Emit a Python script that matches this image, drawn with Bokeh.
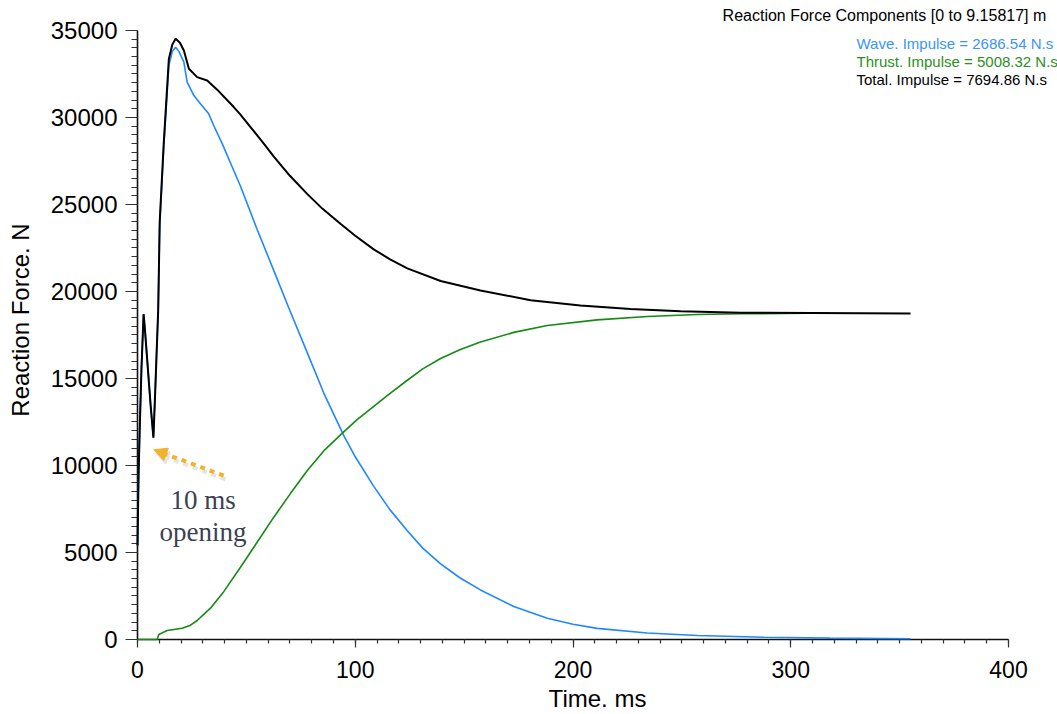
from bokeh.plotting import figure
from bokeh.models import Range1d, FixedTicker, Label, Arrow, NormalHead
from bokeh.embed import file_html
from bokeh.resources import INLINE

# ---- data ----
total_t = [0, 0.5, 1, 1.8, 2.8, 3.3, 4.5, 6, 7.3, 8, 8.7, 9.5, 10.2, 12, 14.4, 16, 17.5,
           19.5, 21.3, 23.6, 27.4, 32, 36.6, 44.2, 47.1, 51.9, 58, 62.6, 70, 77.9, 85,
           93.2, 100, 108.5, 116, 123.9, 139.2, 157.5, 180.5, 203.4, 226.4, 249.4, 277,
           310, 355]
total_f = [5400, 9500, 12000, 15500, 18700, 18000, 16000, 13500, 11600, 13800, 16200,
           18900, 24000, 28400, 33370, 34200, 34520, 34300, 33850, 32800, 32320, 32130,
           31600, 30600, 30190, 29450, 28500, 27750, 26650, 25610, 24750, 23890, 23200,
           22420, 21850, 21330, 20600, 20060, 19500, 19200, 19000, 18870, 18780, 18760,
           18740]

wave_t = [0, 0.5, 1, 1.8, 2.8, 3.3, 4.5, 6, 7.3, 8, 8.7, 9.5, 10.2, 12, 14.4, 16, 17.5,
          19, 21.3, 22.8, 25.9, 28.9, 32.7, 35, 38.9, 43, 47.3, 55, 62.6, 69.5, 77.9,
          85.6, 94.8, 100, 108.5, 116, 123.9, 131, 139.2, 148, 157.5, 172.8, 188.2, 200,
          211.1, 234.1, 257, 287.6, 318, 355]
wave_f = [5400, 9500, 12000, 15500, 18700, 18000, 16000, 13500, 11600, 13800, 16200,
          18900, 23800, 28200, 33000, 33800, 34040, 33800, 33180, 32030, 31260, 30790,
          30210, 29540, 28500, 27300, 26050, 23550, 21200, 19050, 16500, 14150, 11700,
          10500, 8800, 7450, 6250, 5250, 4350, 3550, 2850, 1900, 1220, 880, 640, 370,
          230, 130, 80, 40]

thrust_t = [0, 9, 9.8, 13.6, 20.5, 24, 27.4, 33.5, 39.6, 47.3, 55, 62.6, 70.3, 77.9, 86,
            94.8, 101, 108.5, 116, 123.9, 131, 139.2, 148, 157.5, 172.8, 188.2, 211.1,
            234.1, 257, 277, 318]
thrust_f = [0, 0, 290, 520, 650, 800, 1090, 1800, 2750, 4150, 5600, 7030, 8400, 9700,
            10900, 11950, 12650, 13400, 14150, 14900, 15550, 16150, 16650, 17100, 17650,
            18050, 18370, 18560, 18680, 18720, 18760]

x_major = [0, 100, 200, 300, 400]
y_major = [0, 5000, 10000, 15000, 20000, 25000, 30000, 35000]

title_text = "Reaction Force Components [0 to 9.15817] m"
legend_texts = ["Wave. Impulse = 2686.54 N.s",
                "Thrust. Impulse = 5008.32 N.s",
                "Total. Impulse = 7694.86 N.s"]
legend_colors = ["#3b95f5", "#2a8f22", "#000000"]

# ---- figure ----
# frame runs to the right/top canvas edge so the header texts fit inside it;
# axes are bounded to 0..400 ms and 0..35000 N
p = figure(width=1057, height=714, output_backend="svg", toolbar_location=None,
           x_range=Range1d(0, 422.5), y_range=Range1d(0, 36724),
           min_border_left=137, min_border_right=0, min_border_top=0,
           min_border_bottom=75)
p.grid.visible = False
p.outline_line_color = None
p.background_fill_color = "white"
p.border_fill_color = "white"

p.line(wave_t, wave_f, line_color="#1e88ff", line_width=1.6, level="overlay")
p.line(thrust_t, thrust_f, line_color="#138a13", line_width=1.6, level="overlay")
p.line(total_t, total_f, line_color="#000000", line_width=2, level="overlay")

# axes
xa = p.xaxis[0]
xa.ticker = FixedTicker(ticks=x_major, minor_ticks=list(range(0, 401, 10)))
xa.bounds = (0, 400)
xa.axis_label = "Time. ms"
ya = p.yaxis[0]
ya.ticker = FixedTicker(ticks=y_major, minor_ticks=list(range(0, 35001, 500)))
ya.bounds = (0, 35000)
ya.axis_label = "Reaction Force. N"
for ax in (xa, ya):
    ax.axis_line_color = "#111111"
    ax.axis_line_width = 1.6
    ax.major_tick_line_color = "#333333"
    ax.minor_tick_line_color = "#333333"
    ax.major_tick_line_width = 1.2
    ax.minor_tick_line_width = 1.2
    ax.major_tick_in = 0
    ax.minor_tick_in = 0
    ax.major_label_text_font = "Liberation Sans"
    ax.major_label_text_color = "#000000"
    ax.axis_label_text_font = "Liberation Sans"
    ax.axis_label_text_font_style = "normal"
    ax.axis_label_text_color = "#000000"
    ax.axis_label_text_font_size = "24px"
xa.major_tick_out = 8
xa.minor_tick_out = 4
xa.major_label_text_font_size = "23px"
xa.major_label_standoff = 13
xa.axis_label_standoff = 4
ya.major_tick_out = 12
ya.minor_tick_out = 6
ya.major_label_text_font_size = "24px"
ya.major_label_standoff = 8
ya.axis_label_standoff = 14

# title and impulse legend (top right)
p.add_layout(Label(x=268.7, y=35862, text=title_text, text_font="Liberation Sans",
                   text_font_size="16px", text_color="#000000",
                   text_align="left", text_baseline="middle"))
for i, (t, c) in enumerate(zip(legend_texts, legend_colors)):
    p.add_layout(Label(x=330.2, y=34270 - i * 1040, text=t, text_font="Liberation Sans",
                       text_font_size="15px", text_color=c,
                       text_align="left", text_baseline="middle"))

# annotation arrow "10 ms opening"
p.add_layout(Arrow(x_start=40.4, y_start=9200, x_end=8.4, y_end=10700,
                   line_color="#e4e4e4", line_width=4, line_dash="5 5",
                   end=NormalHead(size=13, fill_color="#e4e4e4", line_color="#e4e4e4")))
p.add_layout(Arrow(x_start=39.6, y_start=9425, x_end=7.5, y_end=10902,
                   line_color="#f0b32a", line_width=4, line_dash="5 5",
                   end=NormalHead(size=13, fill_color="#f0b32a", line_color="#f0b32a")))
p.add_layout(Label(x=30.1, y=7989, text="10 ms", text_font="Liberation Serif",
                   text_font_size="27px", text_color="#3b3f51",
                   text_align="center", text_baseline="middle"))
p.add_layout(Label(x=30.1, y=6167, text="opening", text_font="Liberation Serif",
                   text_font_size="27px", text_color="#3b3f51",
                   text_align="center", text_baseline="middle"))

open("out.html", "w").write(file_html(p, INLINE))
